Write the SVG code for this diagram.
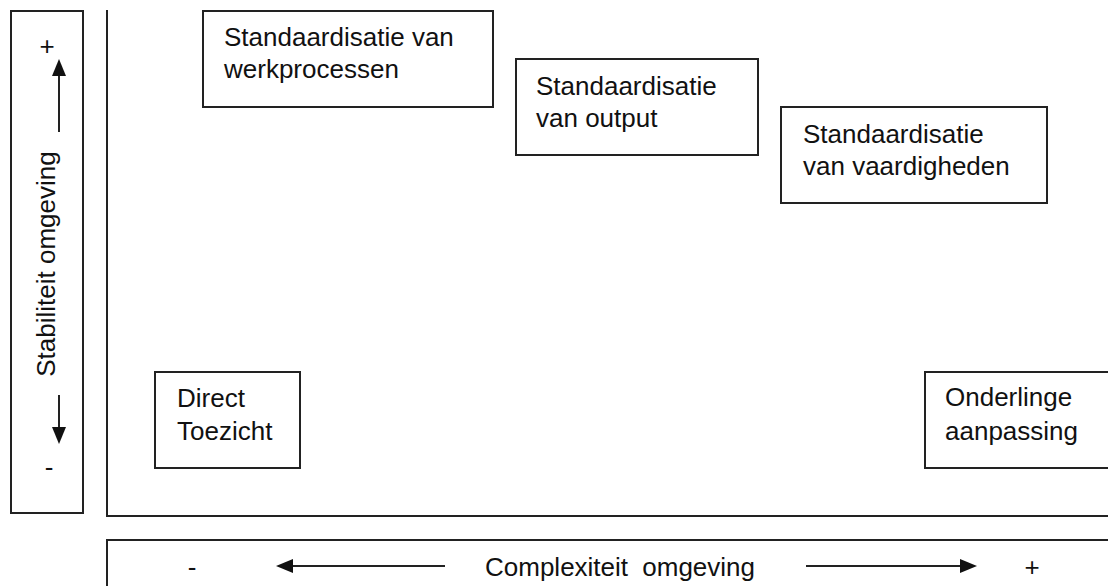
<svg xmlns="http://www.w3.org/2000/svg" width="1108" height="586" viewBox="0 0 1108 586">
<style>
.box{fill:#fff;stroke:#222;stroke-width:2}
.ln{fill:none;stroke:#222;stroke-width:2}
.t{font-family:"Liberation Sans",Arial,sans-serif;font-size:26px;fill:#111}
.ah{fill:#111}
</style>
<rect width="1108" height="586" fill="#fff"/>
<g id="axes">
<path class="ln" d="M107,10 V516 H1120"/>
</g>
<g id="y-axis">
<rect class="box" x="11" y="11" width="72" height="502"/>
<text class="t" x="47" y="55" text-anchor="middle">+</text>
<text class="t" x="49" y="476" text-anchor="middle">-</text>
<text class="t" transform="translate(55,264) rotate(-90)" text-anchor="middle">Stabiliteit omgeving</text>
</g>
<g id="x-axis">
<rect class="box" x="107" y="540" width="1020" height="60"/>
<text class="t" x="192" y="576" text-anchor="middle">-</text>
<text class="t" x="1032" y="576" text-anchor="middle">+</text>
<text class="t" x="485" y="576" word-spacing="7">Complexiteit omgeving</text>
</g>
<g id="connectors">
<line class="ln" x1="59" y1="74" x2="59" y2="132"/>
<polygon class="ah" points="59,59 52,76 66,76"/>
<line class="ln" x1="59" y1="395" x2="59" y2="429"/>
<polygon class="ah" points="59,444 52,427 66,427"/>
<line class="ln" x1="291" y1="566" x2="445" y2="566"/>
<polygon class="ah" points="276,566 293,559 293,573"/>
<line class="ln" x1="806" y1="566" x2="962" y2="566"/>
<polygon class="ah" points="977,566 960,559 960,573"/>
</g>
<g id="werkprocessen">
<rect class="box" x="203" y="11" width="290" height="96"/>
<text class="t" x="224" y="46">Standaardisatie van</text>
<text class="t" x="224" y="78">werkprocessen</text>
</g>
<g id="output">
<rect class="box" x="516" y="59" width="242" height="96"/>
<text class="t" x="536" y="95">Standaardisatie</text>
<text class="t" x="536" y="127">van output</text>
</g>
<g id="vaardigheden">
<rect class="box" x="781" y="107" width="266" height="96"/>
<text class="t" x="803" y="143">Standaardisatie</text>
<text class="t" x="803" y="175">van vaardigheden</text>
</g>
<g id="direct-toezicht">
<rect class="box" x="155" y="372" width="145" height="96"/>
<text class="t" x="177" y="407">Direct</text>
<text class="t" x="177" y="440">Toezicht</text>
</g>
<g id="onderlinge-aanpassing">
<rect class="box" x="925" y="372" width="200" height="96"/>
<text class="t" x="945" y="406">Onderlinge</text>
<text class="t" x="945" y="440">aanpassing</text>
</g>
</svg>
